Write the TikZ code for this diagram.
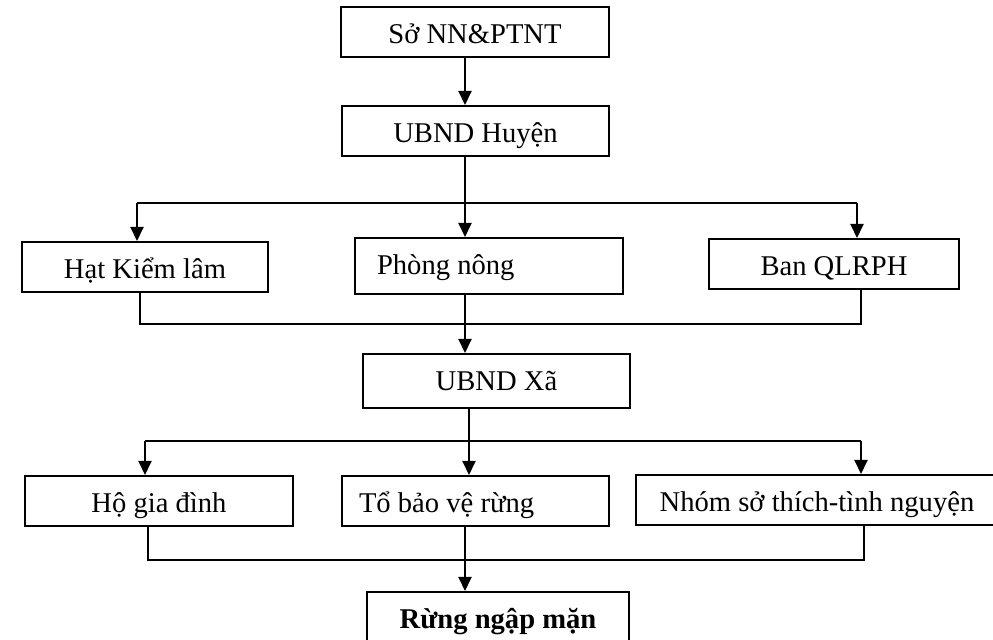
\documentclass[tikz,border=0pt]{standalone}
\usepackage{fontspec}
\setmainfont{Liberation Serif}
\usetikzlibrary{arrows.meta}
\tikzset{
  box/.style={draw, line width=1pt, inner xsep=0pt, inner ysep=0pt,
    text height=18.5pt, text depth=6.5pt, minimum height=25pt,
    font=\fontsize{14.3pt}{17pt}\selectfont},
  wire/.style={line width=1pt},
  arr/.style={line width=1pt, -{Triangle[length=7pt,width=6.5pt]}},
}
\begin{document}
\begin{tikzpicture}[x=0.5pt,y=-0.5pt]
\clip (0,0) rectangle (993,640);
\node[box, minimum width=134pt] (sonn) at (475,32) {Sở NN\&PTNT};
\node[box, minimum width=133.5pt] (huyen) at (475.5,131) {UBND Huyện};
\node[box, minimum width=123pt] (hat) at (145,267) {Hạt Kiểm lâm};
\node[box, inner xsep=11pt, text depth=9.5pt] (phong) at (489,266) {\makebox[112pt][l]{Phòng nông}};
\node[box, minimum width=125pt] (ban) at (834,264) {Ban QLRPH};
\node[box, minimum width=133.5pt, text depth=8.5pt] (xa) at (496.5,381) {UBND Xã};
\node[box, minimum width=134pt] (hogd) at (159,501) {Hộ gia đình};
\node[box, inner xsep=8.5pt] (tobv) at (475.5,501) {\makebox[116.5pt][l]{Tổ bảo vệ rừng}};
\node[box, minimum width=181pt] (nhom) at (817,500) {Nhóm sở thích-tình nguyện};
\node[box, minimum width=131pt] (rung) at (498,617) {\bfseries Rừng ngập mặn};
\coordinate (sA) at (465,0);
\coordinate (sB) at (469,0);
\coordinate (aL) at (137,203.5);
\coordinate (aR) at (857,203.5);
\coordinate (jL) at (140,324);
\coordinate (jR) at (861,324);
\coordinate (bL) at (145,441);
\coordinate (bR) at (861,441);
\coordinate (kL) at (148,560);
\coordinate (kR) at (864,560);
\draw[arr] (sonn.south -| sA) -- (huyen.north -| sA);
\draw[wire] (huyen.south -| sA) -- (sA |- aL);
\draw[wire] (aL) -- (aR);
\draw[arr] (aL) -- (aL |- hat.north);
\draw[arr] (sA |- aL) -- (sA |- phong.north);
\draw[arr] (aR) -- (aR |- ban.north);
\draw[wire] (jL |- hat.south) -- (jL) -- (jR) -- (jR |- ban.south);
\draw[arr] (phong.south -| sA) -- (xa.north -| sA);
\draw[wire] (xa.south -| sB) -- (sB |- bL);
\draw[wire] (bL) -- (bR);
\draw[arr] (bL) -- (bL |- hogd.north);
\draw[arr] (sB |- bL) -- (sB |- tobv.north);
\draw[arr] (bR) -- (bR |- nhom.north);
\draw[wire] (kL |- hogd.south) -- (kL) -- (kR) -- (kR |- nhom.south);
\draw[arr] (tobv.south -| sA) -- (rung.north -| sA);
\end{tikzpicture}
\end{document}
